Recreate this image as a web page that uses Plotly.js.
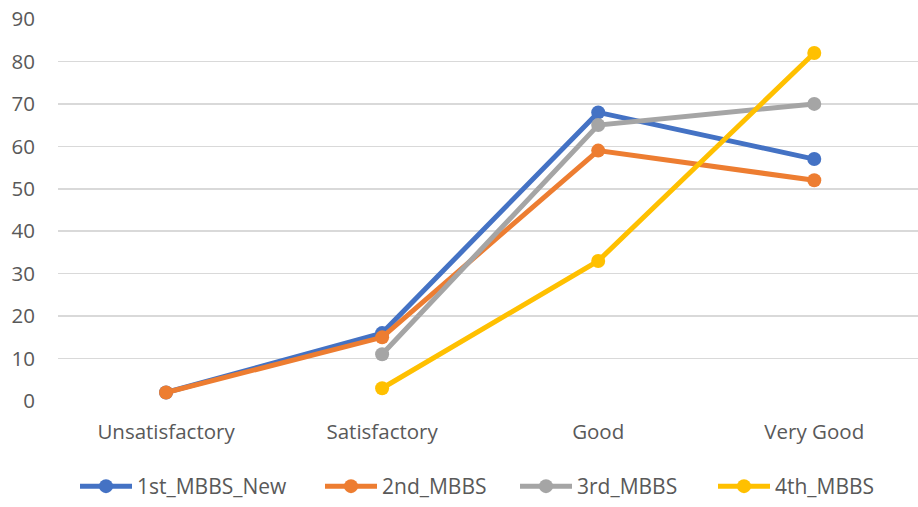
<!DOCTYPE html>
<html>
<head>
<meta charset="utf-8">
<script src="https://cdn.plot.ly/plotly-3.0.1.min.js"></script>
<style>html,body{margin:0;padding:0;background:#fff}#chart{width:918px;height:507px}</style>
</head>
<body>
<div id="chart"></div>
<script>
const categories = ["Unsatisfactory", "Satisfactory", "Good", "Very Good"];
const seriesNames = ["1st_MBBS_New", "2nd_MBBS", "3rd_MBBS", "4th_MBBS"];
const mbbs1 = [2, 16, 68, 57];
const mbbs2 = [2, 15, 59, 52];
const mbbs3 = [null, 11, 65, 70];
const mbbs4 = [null, 3, 33, 82];
const yTicks = [0, 10, 20, 30, 40, 50, 60, 70, 80, 90];
const colors = ["#4472C4", "#ED7D31", "#A5A5A5", "#FFC000"];

const legendIds = ["legend", "legend2", "legend3", "legend4"];
const legendPx = [75, 320, 515, 713];
const plotLeft = 58, plotWidth = 860;

const allSeries = [mbbs1, mbbs2, mbbs3, mbbs4];
const traces = allSeries.map((vals, i) => ({
  type: "scatter",
  mode: "lines+markers",
  name: seriesNames[i],
  x: categories,
  y: vals,
  connectgaps: false,
  legend: legendIds[i],
  line: {color: colors[i], width: 5},
  marker: {color: colors[i], size: 14}
}));

const axisFont = {family: "Open Sans, Noto Sans, sans-serif", size: 20.5, color: "#595959"};
const legendFont = {family: "Open Sans, Noto Sans, sans-serif", size: 21, color: "#595959"};
const layout = {
  width: 918, height: 507,
  margin: {l: 58, r: 0, t: 19, b: 104},
  paper_bgcolor: "#fff", plot_bgcolor: "#fff",
  font: axisFont,
  showlegend: true,
  xaxis: {type: "category", range: [-0.5, 3.48], showgrid: false, zeroline: false,
          showline: false, ticks: "", tickfont: axisFont, fixedrange: true, ticklabelstandoff: 16},
  yaxis: {range: [0, 90], tickvals: yTicks, showgrid: true, gridcolor: "#D9D9D9", gridwidth: 1.5,
          zeroline: false, showline: false, ticks: "", tickfont: axisFont, ticklabelstandoff: 22}
};
legendIds.forEach((id, i) => {
  layout[id] = {orientation: "h", x: (legendPx[i] - plotLeft) / plotWidth, xanchor: "left",
                y: -0.225, yanchor: "middle", font: legendFont, itemwidth: 52,
                bgcolor: "rgba(0,0,0,0)"};
});
Plotly.newPlot("chart", traces, layout, {displayModeBar: false, staticPlot: true});
</script>
</body>
</html>
